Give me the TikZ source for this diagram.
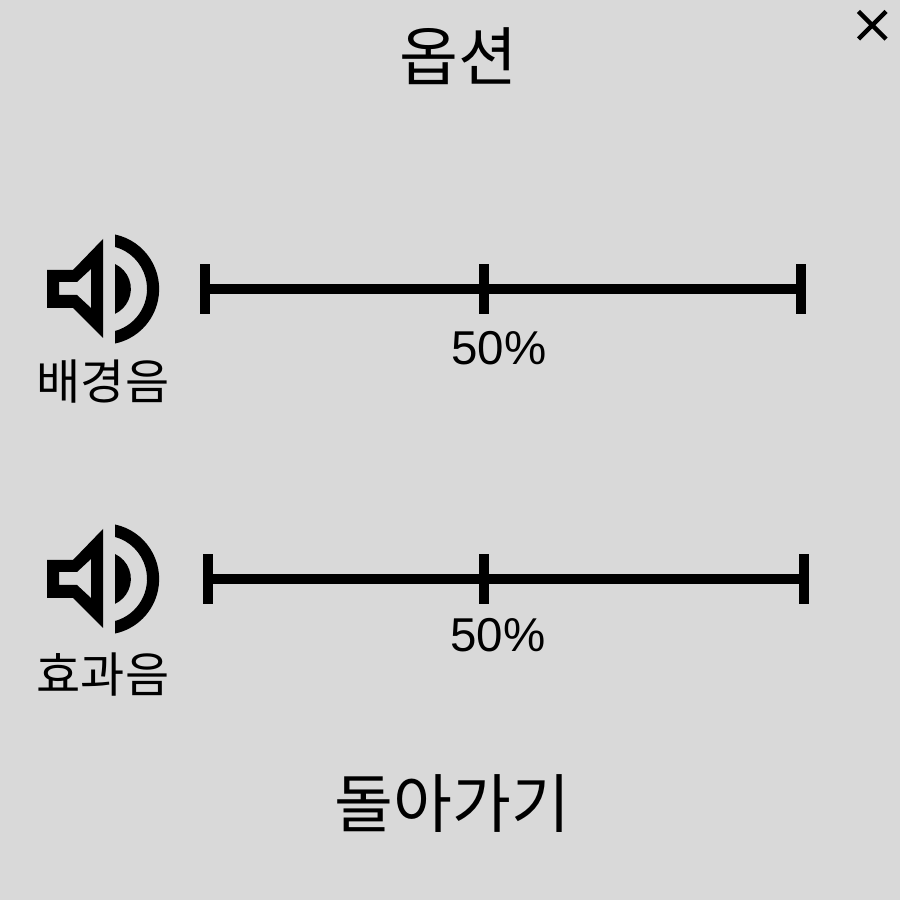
\documentclass[tikz,border=0pt]{standalone}
\usepackage{fontspec}
\newfontfamily\krfont{Noto Sans CJK KR}
\newfontfamily\numfont{Liberation Sans}
\definecolor{panelgray}{HTML}{D9D9D9}
\tikzset{
  x=1pt,y=1pt,
  bigtext/.style={inner sep=0pt,font=\krfont\fontsize{64}{64}\selectfont},
  labeltext/.style={inner sep=0pt,font=\krfont\fontsize{48}{48}\selectfont},
  pcttext/.style={inner sep=0pt,font=\numfont\fontsize{47.5}{48}\selectfont},
  sliderline/.style={line width=10pt,black},
  speaker/.pic={
    \fill[black,even odd rule] (47,19) -- (73,19) -- (103,50) -- (103,-49) -- (73,-19) -- (47,-19) -- cycle
      (59,7) -- (77,7) -- (91,20) -- (91,-19) -- (77,-6) -- (59,-6) -- cycle;
    \fill[black] (115,54.5) arc[start angle=78,end angle=-78,radius=55.75]
      -- (115,-42) arc[start angle=-74.6,end angle=74.6,radius=43.6] -- cycle;
    \fill[black] (115,25) arc[start angle=65,end angle=-65,radius=27.5] -- cycle;
  }
}
\begin{document}
\begin{tikzpicture}
\useasboundingbox (0,0) rectangle (900,900);
\fill[panelgray] (0,0) rectangle (900,900);
\node[bigtext] (title) at (458,844) {옵션};
\draw[line width=4.5pt,black] (858.5,888.5) -- (886,861) (858.5,861) -- (886,888.5);
\pic at (0,611) {speaker};
\pic at (0,321) {speaker};
\draw[sliderline] (205,611) -- (801,611);
\draw[sliderline] (205,586) -- (205,636) (484,586) -- (484,636) (801,586) -- (801,636);
\draw[sliderline] (208,321) -- (804,321);
\draw[sliderline] (208,296) -- (208,346) (484,296) -- (484,346) (804,296) -- (804,346);
\node[pcttext] (pa) at (499,552) {50\%};
\node[pcttext] (pb) at (498,265) {50\%};
\node[labeltext] (la) at (103,518) {배경음};
\node[labeltext] (lb) at (103,225) {효과음};
\node[bigtext] (back) at (452.5,96) {돌아가기};
\end{tikzpicture}
\end{document}
